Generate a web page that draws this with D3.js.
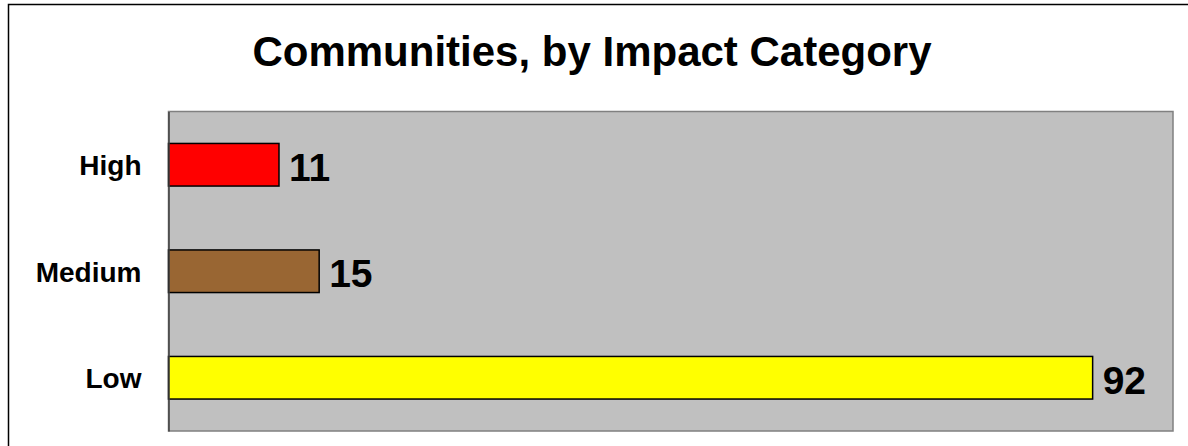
<!DOCTYPE html>
<html>
<head>
<meta charset="utf-8">
<script src="https://cdn.jsdelivr.net/npm/d3@7/dist/d3.min.js"></script>
<style>
  html, body { margin: 0; padding: 0; background: #fff; overflow: hidden; }
  svg { display: block; font-family: Arial, "Liberation Sans", sans-serif; }
</style>
</head>
<body>
<svg id="chart" width="1188" height="446"></svg>
<script>
'use strict';

// chart data
var categories = ['High', 'Medium', 'Low'];
var values = [11, 15, 92];
var barColors = ['#ff0000', '#996633', '#ffff00'];
var xDomain = [0, 100];
var titleText = 'Communities, by Impact Category';

var width = 1188,
    height = 446,
    plot = { left: 168.5, top: 111.5, right: 1173, bottom: 431 };

var svg = d3.select('#chart');

// outer chart frame (runs off the right and bottom edges)
svg.append('rect')
    .attr('x', 8.5)
    .attr('y', 4.5)
    .attr('width', width + 20)
    .attr('height', height + 20)
    .attr('fill', 'none')
    .attr('stroke', '#000')
    .attr('stroke-width', 1.5);

// title
svg.append('text')
    .attr('x', 592)
    .attr('y', 66)
    .attr('text-anchor', 'middle')
    .attr('font-weight', 'bold')
    .attr('font-size', 42)
    .text(titleText);

var x = d3.scaleLinear()
    .domain(xDomain)
    .range([plot.left, plot.right]);

var y = d3.scaleBand()
    .domain(categories)
    .range([plot.top, plot.bottom])
    .paddingInner(0.6)
    .paddingOuter(0.3);

// plot area background
svg.append('rect')
    .attr('x', plot.left)
    .attr('y', plot.top)
    .attr('width', plot.right - plot.left)
    .attr('height', plot.bottom - plot.top)
    .attr('fill', '#c0c0c0')
    .attr('stroke', '#808080')
    .attr('stroke-width', 1.5);

var rows = categories.map(function (c, i) {
    return { cat: c, val: values[i], color: barColors[i] };
});

// bars
svg.selectAll('rect.bar')
    .data(rows)
    .enter()
    .append('rect')
    .attr('class', 'bar')
    .attr('x', x(0))
    .attr('y', function (d) { return y(d.cat); })
    .attr('width', function (d) { return x(d.val) - x(0); })
    .attr('height', y.bandwidth())
    .attr('fill', function (d) { return d.color; })
    .attr('stroke', '#000')
    .attr('stroke-width', 1.5);

// value labels
svg.selectAll('text.val')
    .data(rows)
    .enter()
    .append('text')
    .attr('class', 'val')
    .attr('x', function (d) { return x(d.val) + 10; })
    .attr('y', function (d) { return y(d.cat) + y.bandwidth() / 2 + 16; })
    .attr('font-weight', 'bold')
    .attr('font-size', 39)
    .text(function (d) { return d.val; });

// category axis
var yAxis = d3.axisLeft(y).tickSize(0).tickPadding(27);
var axisG = svg.append('g')
    .attr('transform', 'translate(' + plot.left + ',0)')
    .call(yAxis);
axisG.select('.domain')
    .attr('stroke', '#404040')
    .attr('stroke-width', 1.5);
axisG.selectAll('text')
    .attr('font-family', 'Arial, "Liberation Sans", sans-serif')
    .attr('font-weight', 'bold')
    .attr('font-size', 28)
    .attr('fill', '#000')
    .attr('dy', '0.37em');
</script>
</body>
</html>
